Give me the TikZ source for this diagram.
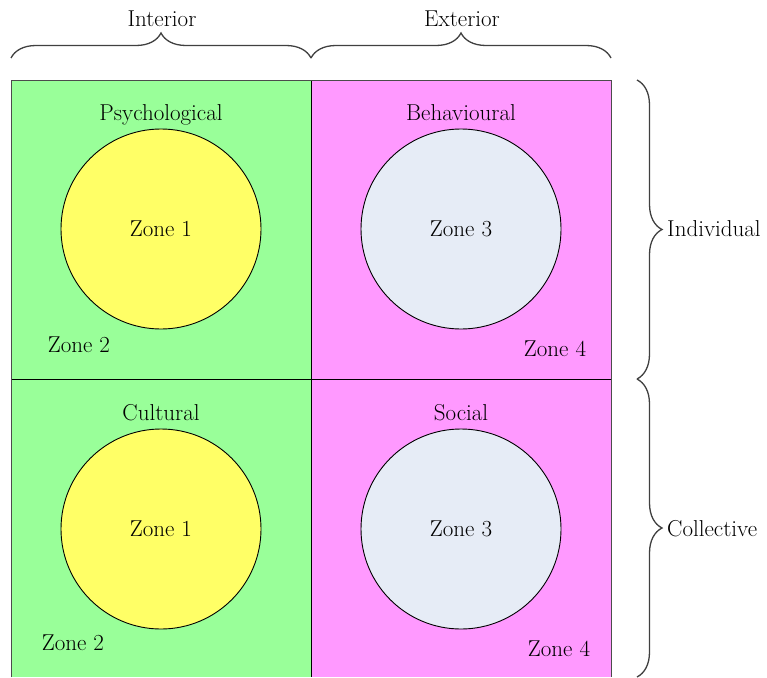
\documentclass[tikz,border=0pt]{standalone}
\usetikzlibrary{decorations.pathreplacing}
\definecolor{qgreen}{HTML}{99FF99}
\definecolor{qpink}{HTML}{FF99FF}
\definecolor{qyellow}{HTML}{FFFF66}
\definecolor{qblue}{HTML}{E6ECF6}
\begin{document}
\begin{tikzpicture}[x=1pt,y=-1pt,
  lbl/.style={font=\fontsize{23}{27}\selectfont, inner sep=0pt, anchor=base},
  zone/.style={circle, draw=black, line width=0.9pt, minimum size=200pt, inner sep=0pt},
  bracestyle/.style={decorate, decoration={brace, amplitude=25pt}, draw=black!75, line width=1.3pt},
  quad/.style={draw=black, line width=0.9pt}]
\useasboundingbox (0,0) rectangle (767,677);
% quadrants
\fill[qgreen] (11,80) rectangle (311,677);
\fill[qpink] (311,80) rectangle (611,677);
\draw[quad] (311,80) -- (311,677);
\draw[quad] (11,379) -- (611,379);
\draw[draw=black!70, line width=1pt] (11,677) -- (11,80) -- (611,80) -- (611,677);
% circles
\node[zone, fill=qyellow] (c1) at (161,229) {};
\node[zone, fill=qblue] (c3) at (461,229) {};
\node[zone, fill=qyellow] (c1b) at (161,529) {};
\node[zone, fill=qblue] (c3b) at (461,529) {};
\node[lbl] (z1) at (161,236) {Zone 1};
\node[lbl] (z3) at (461,236) {Zone 3};
\node[lbl] (z1b) at (161,536) {Zone 1};
\node[lbl] (z3b) at (461,536) {Zone 3};
% titles
\node[lbl] (psy) at (161,120) {Psychological};
\node[lbl] (beh) at (461,120) {Behavioural};
\node[lbl] (cul) at (161,420) {Cultural};
\node[lbl] (soc) at (461,420) {Social};
\node[lbl] (z2) at (79,352) {Zone 2};
\node[lbl] (z4) at (555,356) {Zone 4};
\node[lbl] (z2b) at (73,650) {Zone 2};
\node[lbl] (z4b) at (559,656) {Zone 4};
% braces
\coordinate (t1) at (11,58);
\coordinate (t2) at (311,58);
\coordinate (t3) at (611,58);
\coordinate (r1) at (637,80);
\coordinate (r2) at (637,379);
\coordinate (r3) at (637,677);
\draw[bracestyle] (t1) -- (t2);
\draw[bracestyle] (t2) -- (t3);
\draw[bracestyle] (r1) -- (r2);
\draw[bracestyle] (r2) -- (r3);
\node[lbl] (int) at (162,27) {Interior};
\node[lbl] (ext) at (462,27) {Exterior};
\node[lbl, anchor=base west] (ind) at (667,236) {Individual};
\node[lbl, anchor=base west] (col) at (667,536) {Collective};
\end{tikzpicture}
\end{document}
